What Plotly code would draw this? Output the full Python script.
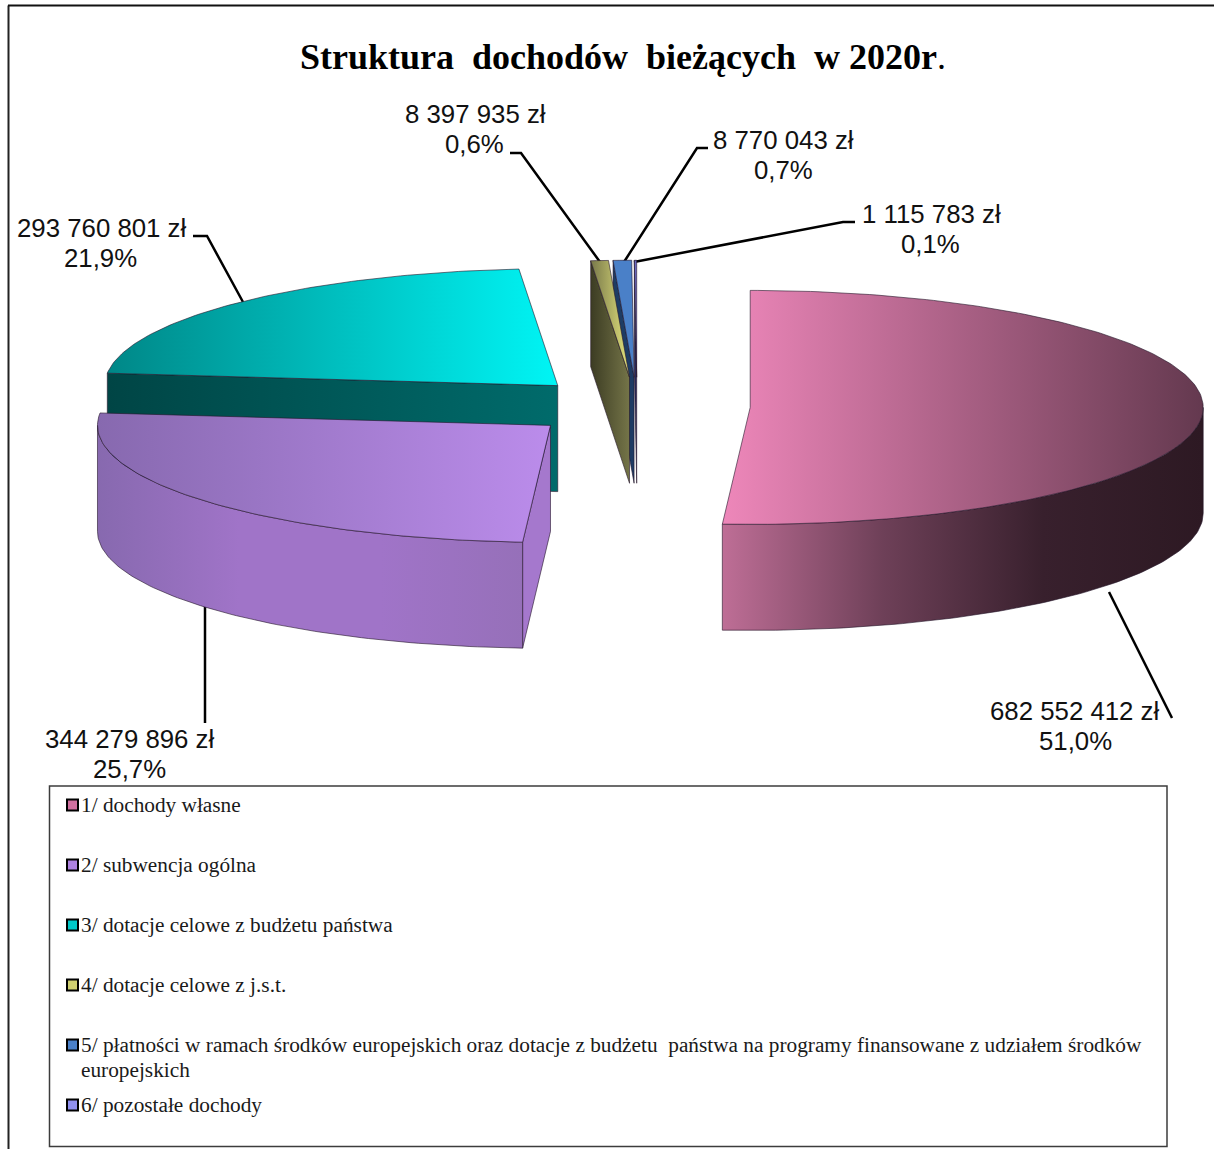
import math
import plotly.graph_objects as go

# ---------- data ----------
categories = [
    "1/ dochody własne",
    "2/ subwencja ogólna",
    "3/ dotacje celowe z budżetu państwa",
    "4/ dotacje celowe z j.s.t.",
    "5/ płatności w ramach środków europejskich oraz dotacje z budżetu  państwa na programy finansowane z udziałem środków europejskich",
    "6/ pozostałe dochody",
]
values = [682552412, 344279896, 293760801, 8397935, 8770043, 1115783]
title_main = "Struktura  dochodów  bieżących  w 2020r"

# ---------- styles ----------
top_colors = [
    ["#EE87BA", "#64394F"], ["#8769AF", "#BB8CEB"], ["#008787", "#00F5F5"],
    ["#78784A", "#E3E37C"], ["#4A80C8", "#4A80C8"], ["#6A6AC0", "#6A6AC0"],
]
wall_colors = [
    ["#BE6E96", "#6E4058", "#38202D", "#2D1923"],
    ["#8769AF", "#A074C8", "#A074C8", "#9670B9"],
    ["#004545", "#006868", "#006868", "#006868"],
    ["#3C3C23", "#747448", "#747448", "#747448"],
    ["#1E3C64", "#1E3C64", "#1E3C64", "#1E3C64"],
    ["#28285A", "#28285A", "#28285A", "#28285A"],
]
face_colors = [
    ["#000000", "#000000"], ["#A578CD", "#A578CD"], ["#004545", "#006B6B"],
    ["#3C3C23", "#747448"], ["#1E3C64", "#1E3C64"], ["#28285A", "#28285A"],
]
swatch_colors = ["#D0709F", "#AE82E0", "#00C8C8", "#CFCF70", "#4A80C8", "#9090F0"]
CX, CY, RX, RY, DEPTH, EXPLODE = 637, 406.5, 453, 117, 106, 0.25
draw_order = [2, 1, 5, 4, 3, 0]
EDGE = "rgba(35,20,40,0.75)"

total = sum(values)
cum = [0]
for v in values:
    cum.append(cum[-1] + v)
ang = [c / total * 2 * math.pi for c in cum]

fig = go.Figure()


def scale(cols):
    n = len(cols) - 1
    return [[i / n, c] for i, c in enumerate(cols)]


def poly(xs, ys, cols, edge=EDGE):
    fig.add_trace(go.Scatter(
        x=xs, y=ys, mode="lines", fill="toself",
        fillgradient=dict(type="horizontal", colorscale=scale(cols)),
        line=dict(color=edge, width=0.8), hoverinfo="skip", showlegend=False))


def line(xs, ys, color="#000000", width=2.5):
    fig.add_trace(go.Scatter(x=xs, y=ys, mode="lines",
                             line=dict(color=color, width=width),
                             hoverinfo="skip", showlegend=False))


# ---------- leader lines (beneath the slices) ----------
leaders = [
    ([1172, 1109], [718, 592]),
    ([205, 205], [723, 600]),
    ([193, 207, 243], [236, 236, 302]),
    ([510, 521, 600], [153, 153, 262]),
    ([708, 697, 624], [148, 148, 262]),
    ([855, 843, 634], [222, 222, 262]),
]
for lx, ly in leaders:
    line(lx, ly)


# ---------- 3-D exploded pie ----------
def pt(cx, cy, t, dy=0):
    return cx + RX * math.sin(t), cy - RY * math.cos(t) + dy


for i in draw_order:
    a0, a1 = ang[i], ang[i + 1]
    mid = (a0 + a1) / 2
    cx = CX + EXPLODE * RX * math.sin(mid)
    cy = CY - EXPLODE * RY * math.cos(mid)
    n = max(3, int((a1 - a0) * 60))
    ts = [a0 + (a1 - a0) * k / n for k in range(n + 1)]

    # cut faces that turn toward the viewer
    if math.sin(a0) < -1e-6:
        ex, ey = pt(cx, cy, a0)
        poly([cx, ex, ex, cx, cx], [cy, ey, ey + DEPTH, cy + DEPTH, cy], face_colors[i])
    if math.sin(a1) > 1e-6:
        ex, ey = pt(cx, cy, a1)
        poly([cx, ex, ex, cx, cx], [cy, ey, ey + DEPTH, cy + DEPTH, cy], face_colors[i])

    # outer wall (front half only)
    w0, w1 = max(a0, math.pi / 2), min(a1, 3 * math.pi / 2)
    if w1 > w0:
        m = max(3, int((w1 - w0) * 60))
        tw = [w0 + (w1 - w0) * k / m for k in range(m + 1)]
        upper = [pt(cx, cy, t) for t in tw]
        lower = [pt(cx, cy, t, DEPTH) for t in reversed(tw)]
        loop = upper + lower + upper[:1]
        poly([p[0] for p in loop], [p[1] for p in loop], wall_colors[i])

    # top surface
    arc = [pt(cx, cy, t) for t in ts]
    loop = [(cx, cy)] + arc + [(cx, cy)]
    poly([p[0] for p in loop], [p[1] for p in loop], top_colors[i])

# ---------- legend box ----------
swatch_y = [805, 865, 925, 985, 1045, 1105]
fig.add_trace(go.Scatter(
    x=[72.5] * len(categories), y=swatch_y, mode="markers",
    marker=dict(symbol="square", size=11, color=swatch_colors,
                line=dict(color="#000000", width=2)),
    hoverinfo="skip", showlegend=False))

ann = []


def text(x, y, s, size, family, anchor="center", color="#000000", bold=False):
    ann.append(dict(x=x, y=y, text=f"<b>{s}</b>" if bold else s, showarrow=False,
                    xref="x", yref="y", xanchor=anchor, yanchor="middle",
                    font=dict(size=size, family=family, color=color)))


SERIF = "Liberation Serif"
SANS = "Liberation Sans"
legend_lines = [
    categories[0], categories[1], categories[2], categories[3],
    "5/ płatności w ramach środków europejskich oraz dotacje z budżetu  państwa na programy finansowane z udziałem środków",
    "europejskich", categories[5],
]
legend_y = [805, 865, 925, 985, 1045, 1070, 1105]
for s, y in zip(legend_lines, legend_y):
    text(79, y, s.replace("  ", "\u00a0\u00a0"), 21.3, SERIF, "left", "#1a1a1a")

# ---------- value labels ----------
label_pos = [(1075, 711), (130, 739), (102, 228), (475, 114), (783, 140), (931, 214)]
pct_x = [1075, 129, 100, 474, 783, 930]
for v, (x, y), px in zip(values, label_pos, pct_x):
    amount = f"{v:,}".replace(",", " ") + " zł"
    pct = f"{v / total * 100:.1f}%".replace(".", ",")
    text(x, y, amount, 25.8, SANS, color="#111111")
    text(px, y + 30, pct, 25.8, SANS, color="#111111")

# ---------- title ----------
text(298, 57, title_main.replace("  ", "\u00a0\u00a0") + "<span style='font-weight:normal'>.</span>",
     36, SERIF, "left", bold=True)

fig.update_layout(
    width=1214, height=1149,
    margin=dict(l=0, r=0, t=0, b=0),
    paper_bgcolor="#FFFFFF", plot_bgcolor="#FFFFFF",
    xaxis=dict(range=[0, 1214], visible=False, fixedrange=True),
    yaxis=dict(range=[1149, 0], visible=False, fixedrange=True),
    annotations=ann,
    shapes=[
        dict(type="rect", x0=49.5, y0=786, x1=1167, y1=1146.5,
             line=dict(color="#3c3c3c", width=1.5), layer="below"),
        dict(type="line", x0=8.5, y0=5.5, x1=8.5, y1=1149, line=dict(color="#222222", width=2)),
        dict(type="line", x0=8, y0=5.5, x1=1214, y1=5.5, line=dict(color="#111111", width=2)),
    ],
)
fig.write_html("out.html", config=dict(displayModeBar=False),
               post_script="document.body.style.margin='0';document.documentElement.style.overflow='hidden';")
